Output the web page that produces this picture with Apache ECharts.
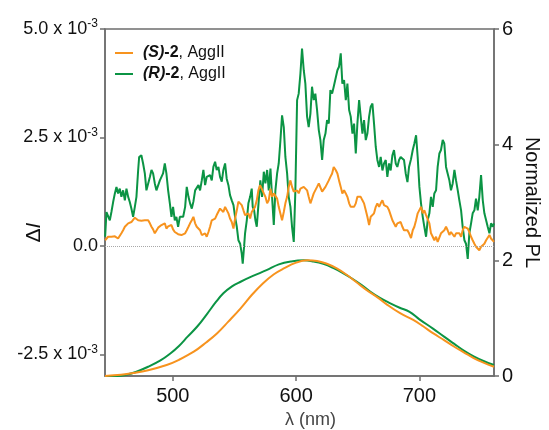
<!DOCTYPE html>
<html>
<head>
<meta charset="utf-8">
<script src="https://cdn.jsdelivr.net/npm/echarts@6/dist/echarts.min.js"></script>
<style>
  html, body { margin: 0; padding: 0; background: #fff; }
  #chart { width: 549px; height: 430px; }
</style>
</head>
<body>
<div id="chart"></div>
<script>
// Circular dichroism (ΔI, in units of 1e-3) vs wavelength (nm)
const dI_S = [[445.1,0.13],[446.2,0.17],[447.5,0.21],[448.9,0.25],[450.2,0.21],[451.6,0.17],[453.0,0.22],[454.3,0.19],[455.6,0.17],[457.0,0.21],[458.3,0.29],[459.7,0.36],[461.1,0.44],[462.4,0.48],[463.8,0.52],[465.1,0.53],[466.4,0.55],[467.8,0.59],[469.2,0.65],[470.5,0.63],[471.9,0.59],[473.2,0.61],[474.5,0.58],[475.9,0.55],[477.3,0.59],[478.6,0.63],[480.0,0.59],[481.4,0.52],[482.7,0.44],[484.0,0.38],[485.4,0.29],[486.7,0.32],[488.1,0.42],[489.5,0.45],[490.8,0.48],[492.1,0.44],[493.5,0.52],[494.8,0.40],[496.2,0.45],[497.6,0.42],[498.9,0.48],[500.2,0.38],[501.6,0.32],[502.9,0.36],[504.3,0.27],[505.7,0.29],[507.0,0.25],[508.4,0.26],
  [510.0,0.29],[511.3,0.36],[512.7,0.44],[514.0,0.52],[515.4,0.59],[516.7,0.67],[518.1,0.52],[519.4,0.44],[520.8,0.40],[522.1,0.36],[523.5,0.25],[524.8,0.21],[526.2,0.29],[527.5,0.21],[528.9,0.32],[530.2,0.44],[531.6,0.59],[532.9,0.55],[534.3,0.63],[535.6,0.71],[537.0,0.75],[538.3,0.86],[539.7,0.82],[541.0,0.78],[542.4,0.90],[543.7,0.86],[545.1,0.75],[546.4,0.63],[547.8,0.55],[549.2,0.40],[550.5,0.63],[551.9,0.82],[553.2,1.02],[554.6,1.05],[555.9,0.94],[557.3,0.82],[558.6,0.71],[560.0,0.67],[561.3,0.75],[562.7,0.63],[564.0,0.78],[565.4,0.75],[566.7,0.90],[568.1,1.05],
  [569.4,1.28],[570.8,1.40],[572.4,1.36],[573.8,1.21],[575.1,1.13],[576.5,0.98],[577.8,1.05],[579.2,1.32],[580.5,1.13],[581.9,1.21],[583.2,1.25],[584.6,1.09],[585.9,0.90],[587.3,0.86],[588.6,0.59],[590.0,0.78],[591.3,0.98],[592.7,1.13],[594.0,1.36],[595.4,1.51],[596.7,1.36],[598.1,1.25],[599.4,1.21],[600.8,1.28],[602.1,1.21],[603.5,1.32],[604.8,1.28],[606.2,1.36],[607.5,1.40],[608.9,1.28],[610.2,1.13],[611.6,0.98],[612.9,1.09],[614.3,1.21],[615.6,1.25],[617.0,1.36],[618.4,1.44],[619.7,1.40],[621.1,1.25],[622.4,1.21],[623.8,1.36],[625.1,1.32],[626.5,1.51],[627.8,1.59],[629.2,1.67],[630.5,1.82],
  [632.1,1.75],[633.5,1.67],[634.8,1.51],[636.2,1.36],[637.5,1.21],[638.9,1.28],[640.3,1.21],[641.6,1.13],[643.0,0.98],[644.3,0.90],[645.7,0.86],[647.0,0.90],[648.4,0.98],[649.7,1.13],[651.1,1.17],[652.4,1.13],[653.8,1.05],[655.1,0.98],[656.5,0.82],[657.8,0.67],[659.2,0.48],[660.5,0.67],[661.9,0.71],[663.2,0.75],[664.6,0.90],[665.9,0.98],[667.3,0.90],[668.6,0.98],[670.0,1.05],[671.3,0.94],[672.7,0.98],[674.0,0.90],[675.4,0.82],[676.7,0.71],[678.1,0.59],[679.4,0.55],[680.8,0.44],[682.1,0.52],[683.5,0.48],[684.8,0.55],[686.2,0.44],[687.5,0.36],[688.9,0.32],[690.3,0.36],[691.6,0.29],
  [693.2,0.18],[694.6,0.36],[695.9,0.44],[697.3,0.59],[698.6,0.75],[700.0,0.78],[701.3,0.90],[702.7,0.75],[704.0,0.82],[705.4,0.71],[706.7,0.67],[708.1,0.52],[709.4,0.29],[710.8,0.21],[712.1,0.13],[713.5,0.21],[714.8,0.09],[716.2,0.13],[717.5,0.29],[718.9,0.32],[720.2,0.36],[721.6,0.44],[722.9,0.36],[724.3,0.25],[725.6,0.32],[727.0,0.29],[728.4,0.21],[729.7,0.29],[731.1,0.25],[732.4,0.29],[733.8,0.21],[735.1,0.36],[736.5,0.44],[737.8,0.40],[739.2,0.40],[740.5,0.32],[741.9,0.21],[743.2,0.13],[744.6,0.05],[745.9,-0.02],[747.3,-0.06],[748.6,-0.10],[750.0,-0.02],[751.4,-0.06],[752.7,0.05],[754.1,0.13],[755.4,0.17],[756.8,0.25],[758.1,0.17],[759.5,0.13],[760.5,0.09]];

const dI_R = [[445.1,0.21],[446.2,0.78],[447.5,0.82],[448.9,0.59],[450.2,0.78],[451.6,1.01],[453.0,1.21],[454.3,1.36],[455.6,1.21],[457.0,1.32],[458.3,1.13],[459.7,1.28],[461.1,1.05],[462.4,1.32],[463.8,1.13],[465.1,1.01],[466.4,0.86],[467.8,0.67],[469.2,0.90],[470.5,1.13],[471.9,1.75],[472.7,2.05],[474.5,2.09],[475.9,1.90],[477.3,1.67],[478.6,1.28],[480.0,1.28],[481.4,1.59],[482.7,1.75],[484.0,1.67],[485.4,1.44],[486.7,1.28],[488.1,1.25],[489.5,1.51],[490.8,1.59],[492.1,1.67],[493.5,1.90],[494.8,1.67],[496.2,1.28],[497.6,0.98],[498.9,0.67],[500.2,0.90],[501.6,0.59],[502.9,0.67],[504.3,0.44],[505.7,0.67],[507.0,0.63],[508.4,0.67],
  [510.0,0.90],[511.3,1.36],[512.7,1.13],[514.0,0.98],[515.4,0.86],[516.7,1.02],[518.1,1.28],[519.4,1.32],[520.8,1.40],[522.1,1.28],[523.5,1.51],[524.8,1.75],[526.2,1.40],[527.5,1.59],[528.9,1.55],[530.2,1.63],[531.6,1.51],[532.9,1.82],[534.3,1.94],[535.6,1.75],[537.0,1.82],[538.3,1.59],[539.7,1.48],[541.0,1.75],[542.4,1.90],[543.7,1.55],[545.1,1.40],[546.4,1.17],[547.8,1.05],[549.2,0.94],[550.5,0.67],[551.9,0.44],[553.2,0.13],[554.6,0.05],[555.9,-0.18],[556.7,-0.41],[557.8,-0.02],[558.6,0.29],[560.0,0.59],[561.3,0.98],[562.7,1.13],[564.0,1.32],[564.8,0.90],[565.9,0.83],[567.0,0.59],[568.1,0.44],
  [569.7,1.05],[571.0,1.51],[572.4,1.13],[573.8,1.71],[575.1,1.44],[576.5,1.75],[577.8,1.28],[579.2,1.78],[580.5,1.13],[581.9,0.48],[583.2,1.28],[584.6,1.67],[585.9,1.90],[587.3,2.44],[588.6,3.01],[590.0,2.74],[591.3,2.05],[592.7,1.67],[594.0,1.13],[595.4,0.90],[596.7,0.44],[598.1,0.09],[599.4,1.28],[600.8,3.36],[602.1,3.51],[603.5,3.97],[604.8,4.55],[606.2,4.05],[607.5,3.74],[608.9,2.98],[610.2,2.74],[611.6,3.05],[612.9,3.67],[614.3,3.36],[615.6,3.51],[617.0,3.13],[618.4,2.67],[619.7,2.44],[621.1,1.98],[622.4,2.44],[623.8,2.59],[625.1,2.90],[626.5,2.82],[627.8,3.59],[629.2,3.51],[630.5,3.67],
  [632.1,3.67],[633.5,4.05],[634.8,4.13],[636.2,4.44],[637.5,3.74],[638.9,3.82],[640.3,3.36],[641.6,3.74],[643.0,3.13],[644.3,2.98],[645.7,2.59],[647.0,2.82],[648.4,2.13],[649.7,2.82],[651.1,3.36],[652.4,2.98],[653.8,2.59],[655.1,2.90],[656.5,2.44],[657.8,2.59],[659.2,2.98],[660.5,3.21],[661.9,3.28],[663.2,2.82],[664.6,2.28],[665.9,1.98],[667.3,1.82],[668.6,2.05],[670.0,1.74],[671.3,1.90],[672.7,1.98],[674.0,1.59],[675.4,1.90],[676.7,1.74],[678.1,2.09],[679.4,2.21],[680.8,1.90],[682.1,1.82],[683.5,1.98],[684.8,2.05],[686.2,2.01],[687.5,1.98],[688.9,1.67],[690.3,1.47],[691.6,1.82],
  [693.2,2.00],[694.6,2.21],[695.9,2.36],[697.3,2.55],[698.6,2.05],[700.0,1.36],[701.3,0.98],[702.7,0.67],[704.0,0.44],[705.4,0.21],[706.7,0.59],[708.1,0.75],[709.4,1.13],[710.8,0.90],[712.1,1.21],[713.5,1.28],[714.8,1.82],[716.2,2.13],[717.5,2.21],[718.9,2.44],[720.2,2.36],[721.6,1.82],[722.9,1.67],[724.3,1.51],[725.6,1.28],[727.0,1.44],[728.4,1.75],[729.7,1.51],[731.1,1.28],[732.4,1.05],[733.8,0.82],[735.1,0.44],[736.5,0.13],[737.8,0.05],[739.2,-0.30],[740.5,0.29],[741.9,0.52],[743.2,0.75],[744.6,0.82],[745.9,1.09],[747.3,0.82],[748.6,1.13],[750.0,1.63],[751.4,1.05],[752.7,0.75],[754.1,0.59],[755.4,0.44],[756.8,0.29],[758.1,0.52],[759.5,0.44],[760.5,0.52]];

// Normalized photoluminescence vs wavelength (nm)
const pl_S = [[445,0],[458,0.02],[468,0.05],[480,0.10],[495,0.19],[505,0.28],[517,0.42],[527,0.58],[536,0.74],[545,0.94],[555,1.17],[564,1.40],[573,1.60],[582,1.76],[590,1.86],[600,1.96],[609,2.00],[617,1.99],[625,1.94],[633,1.86],[641,1.75],[649,1.62],[657,1.49],[666,1.36],[674,1.23],[684,1.09],[695,0.97],[703,0.86],[711,0.74],[720,0.62],[728,0.51],[736,0.41],[744,0.31],[752,0.23],[760.5,0.16]];
const pl_R = [[445,0],[455,0],[462,0.02],[470,0.07],[480,0.16],[490,0.27],[498,0.39],[505,0.52],[512,0.68],[520,0.86],[528,1.08],[535,1.28],[541,1.43],[548,1.55],[555,1.63],[565,1.73],[576,1.83],[586,1.93],[596,1.98],[606,2.00],[614,1.98],[622,1.94],[630,1.87],[638,1.78],[645,1.69],[652,1.59],[660,1.46],[668,1.35],[676,1.26],[684,1.18],[692,1.11],[700,0.98],[711,0.82],[720,0.68],[728,0.56],[736,0.44],[744,0.34],[752,0.26],[760.5,0.19]];

const seriesNames = ['(S)-2, AggII', '(R)-2, AggII'];
const wlTicks = [500, 600, 700];
const dITicks = [-2.5, 0, 2.5, 5.0];
const plTicks = [0, 2, 4, 6];

const ORANGE = '#F7931E';
const GREEN = '#0B9444';
const AXIS = '#6e6e6e';
const FONT = "'Liberation Sans', Arial, sans-serif";

const chart = echarts.init(document.getElementById('chart'), null, { renderer: 'canvas' });

const axisLine = { show: true, onZero: false, lineStyle: { color: AXIS, width: 1.5 } };
const axisTick = { show: true, inside: false, length: 5, lineStyle: { color: AXIS, width: 1.5 } };

chart.setOption({
  animation: false,
  textStyle: { fontFamily: FONT },
  grid: {
    left: 105, right: 55, top: 29, bottom: 54,
    show: true, borderColor: AXIS, borderWidth: 1.5,
    containLabel: false, outerBoundsMode: 'none'
  },
  legend: {
    data: seriesNames,
    orient: 'vertical',
    left: 110, top: 40,
    itemWidth: 18, itemHeight: 2,
    itemGap: 5,
    icon: 'rect',
    formatter: function (name) {
      const m = name.match(/^\((\w)\)(-2)(.*)$/);
      return '{bi|(' + m[1] + ')}{b|' + m[2] + '}{r|' + m[3] + '}';
    },
    textStyle: {
      fontFamily: FONT, fontSize: 16, color: '#111',
      rich: {
        bi: { fontFamily: FONT, fontSize: 16, fontWeight: 'bold', fontStyle: 'italic', color: '#111', padding: [0, 0, 0, 5] },
        b: { fontFamily: FONT, fontSize: 16, fontWeight: 'bold', color: '#111' },
        r: { fontFamily: FONT, fontSize: 16, color: '#111' }
      }
    }
  },
  xAxis: {
    type: 'value', min: 445, max: 760.5,
    name: 'λ (nm)', nameLocation: 'middle', nameGap: 35, nameMoveOverlap: false,
    nameTextStyle: { fontFamily: FONT, fontSize: 18, color: '#444', padding: [0, 0, 0, 22] },
    axisLine: axisLine,
    axisTick: Object.assign({}, axisTick, { customValues: wlTicks }),
    axisLabel: { customValues: wlTicks, margin: 10, fontFamily: FONT, fontSize: 20, color: '#111' },
    splitLine: { show: false }
  },
  yAxis: [
    {
      type: 'value', min: -3, max: 5, position: 'left',
      name: '{d|Δ}{i|I}', nameLocation: 'middle', nameRotate: 90, nameGap: 60, nameMoveOverlap: false,
      nameTextStyle: {
        padding: [0, 60, 0, 0],
        rich: {
          d: { fontFamily: FONT, fontSize: 21, color: '#111' },
          i: { fontFamily: FONT, fontSize: 21, fontStyle: 'italic', color: '#111' }
        }
      },
      axisLine: axisLine,
      axisTick: Object.assign({}, axisTick, { customValues: dITicks }),
      axisLabel: {
        customValues: dITicks, margin: 7,
        formatter: function (v) {
          if (v === 0) return '{m|0.0}';
          return '{m|' + v.toFixed(1) + ' x 10}{s|-3}';
        },
        rich: {
          m: { fontFamily: FONT, fontSize: 18, color: '#111', lineHeight: 22 },
          s: { fontFamily: FONT, fontSize: 12, color: '#111', lineHeight: 12, verticalAlign: 'top' }
        }
      },
      splitLine: { show: false }
    },
    {
      type: 'value', min: 0, max: 6, interval: 2, position: 'right',
      name: 'Normalized PL', nameLocation: 'middle', nameRotate: -90, nameGap: 28, nameMoveOverlap: false,
      nameTextStyle: { fontFamily: FONT, fontSize: 20, color: '#111' },
      axisLine: axisLine,
      axisTick: Object.assign({}, axisTick, { customValues: plTicks }),
      axisLabel: { customValues: plTicks, margin: 8, fontFamily: FONT, fontSize: 20, color: '#111' },
      splitLine: { show: false }
    }
  ],
  series: [
    {
      name: seriesNames[1], type: 'line', yAxisIndex: 0, data: dI_R,
      showSymbol: false, symbol: 'none', color: GREEN,
      lineStyle: { color: GREEN, width: 2 },
      markLine: {
        silent: true, symbol: ['none', 'none'], label: { show: false },
        lineStyle: { type: 'dotted', color: '#a8a8a8', width: 1 },
        data: [{ yAxis: 0 }]
      }
    },
    {
      name: seriesNames[0], type: 'line', yAxisIndex: 0, data: dI_S,
      showSymbol: false, symbol: 'none', color: ORANGE,
      lineStyle: { color: ORANGE, width: 2 }
    },
    {
      name: 'PL (R)', type: 'line', yAxisIndex: 1, data: pl_R, smooth: 0.4,
      showSymbol: false, symbol: 'none', color: GREEN,
      lineStyle: { color: GREEN, width: 2 }
    },
    {
      name: 'PL (S)', type: 'line', yAxisIndex: 1, data: pl_S, smooth: 0.4,
      showSymbol: false, symbol: 'none', color: ORANGE,
      lineStyle: { color: ORANGE, width: 2 }
    }
  ]
});
</script>
</body>
</html>
